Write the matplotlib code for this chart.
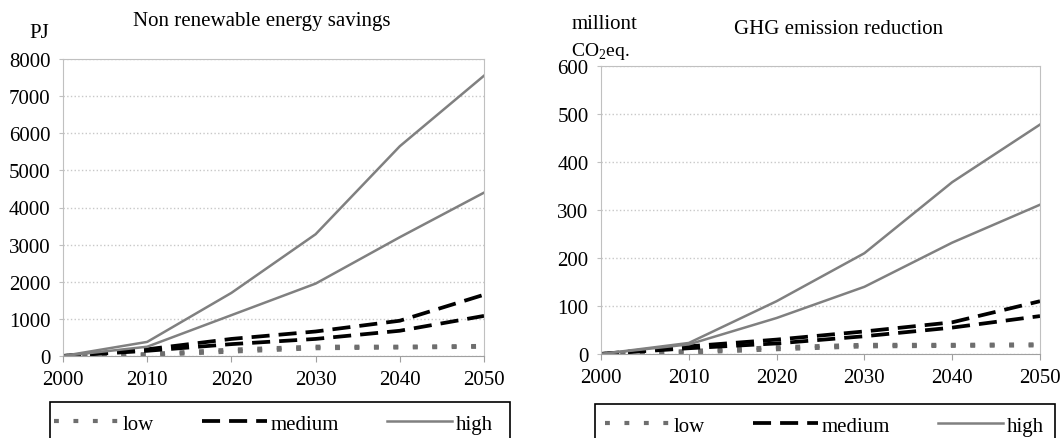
import matplotlib
matplotlib.use("Agg")
import matplotlib.pyplot as plt
from matplotlib.patches import Rectangle

plt.rcParams['font.family'] = ['Liberation Serif', 'DejaVu Serif']
plt.rcParams['mathtext.fontset'] = 'custom'
plt.rcParams['mathtext.rm'] = 'Liberation Serif'
plt.rcParams['lines.scale_dashes'] = False

years = [2000, 2010, 2020, 2030, 2040, 2050]

# energy savings (PJ)
nre_low_a = [0, 50, 170, 250, 250, 270]
nre_low_b = [0, 25, 120, 210, 230, 250]
nre_med_a = [0, 180, 460, 660, 950, 1650]
nre_med_b = [0, 140, 320, 460, 680, 1080]
nre_high_a = [0, 380, 1700, 3280, 5650, 7550]
nre_high_b = [0, 250, 1100, 1950, 3200, 4400]

# GHG reduction (million t CO2eq.)
ghg_low_a = [0, 6, 14, 19, 19, 20]
ghg_low_b = [0, 3, 10, 16, 17, 18]
ghg_med_a = [0, 16, 30, 47, 66, 110]
ghg_med_b = [0, 12, 22, 37, 55, 79]
ghg_high_a = [0, 23, 110, 210, 358, 478]
ghg_high_b = [0, 20, 75, 140, 232, 311]

W, H = 1064, 439
fig = plt.figure(figsize=(W / 100, H / 100), dpi=100)

low_style = dict(color='#6e6e6e', lw=3.0, linestyle=(0, (3.5, 10.5)))
med_style = dict(color='black', lw=2.7, linestyle=(0, (13, 6.5)))
high_style = dict(color='#808080', lw=1.8, linestyle='-')


def draw(ax, low, med, high, ymax, ystep):
    ax.plot(years, low[0], label='low', **low_style)
    ax.plot(years, low[1], **low_style)
    ax.plot(years, med[0], label='medium', **med_style)
    ax.plot(years, med[1], **med_style)
    ax.plot(years, high[0], label='high', **high_style)
    ax.plot(years, high[1], **high_style)
    ax.set_xlim(2000, 2050)
    ax.set_ylim(0, ymax)
    ax.set_xticks(years)
    ax.set_yticks(range(0, ymax + 1, ystep))
    ax.yaxis.grid(True, color='#c8c8c8', linestyle=':', lw=1)
    ax.set_axisbelow(True)
    for s in ax.spines.values():
        s.set_color('#c0c0c0')
    ax.spines['bottom'].set_color('#a0a0a0')
    ax.tick_params(axis='x', length=4, color='#a0a0a0', labelsize=15, pad=6)
    ax.tick_params(axis='y', length=3, color='#c0c0c0', labelsize=15, pad=6)


ax1 = fig.add_axes([63 / W, 1 - 357 / H, 421 / W, 297 / H])
draw(ax1, (nre_low_a, nre_low_b), (nre_med_a, nre_med_b), (nre_high_a, nre_high_b), 8000, 1000)
fig.text(0.246, 0.95, 'Non renewable energy savings', fontsize=15, ha='center', va='center')
fig.text(0.037, 0.923, 'PJ', fontsize=15, ha='center', va='center')

ax2 = fig.add_axes([601 / W, 1 - 355 / H, 439 / W, 288 / H])
draw(ax2, (ghg_low_a, ghg_low_b), (ghg_med_a, ghg_med_b), (ghg_high_a, ghg_high_b), 600, 100)
fig.text(0.788, 0.932, 'GHG emission reduction', fontsize=15, ha='center', va='center')
fig.text(0.537, 0.945, 'milliont', fontsize=15, ha='left', va='center')
fig.text(0.537, 0.882, 'CO$_2$eq.', fontsize=14, ha='left', va='center')

# legend boxes below each panel (cut off by the bottom edge, as in the original)
for ax, x0, x1, top, inset in [(ax1, 50, 510, 403, 4), (ax2, 595, 1055, 405, 10)]:
    fig.add_artist(Rectangle((x0 / W, -0.1), (x1 - x0) / W, 1 - top / H + 0.1,
                             transform=fig.transFigure, fill=False,
                             edgecolor='black', lw=1.2))
    ax.legend(loc='upper left', ncol=3, bbox_to_anchor=((x0 + inset) / W, 1 - (top + 12) / H),
              bbox_transform=fig.transFigure, frameon=False, fontsize=15,
              handlelength=3.1, handletextpad=0.2, columnspacing=2.3,
              borderaxespad=0, borderpad=0)

fig.savefig('out.png', dpi=100)
